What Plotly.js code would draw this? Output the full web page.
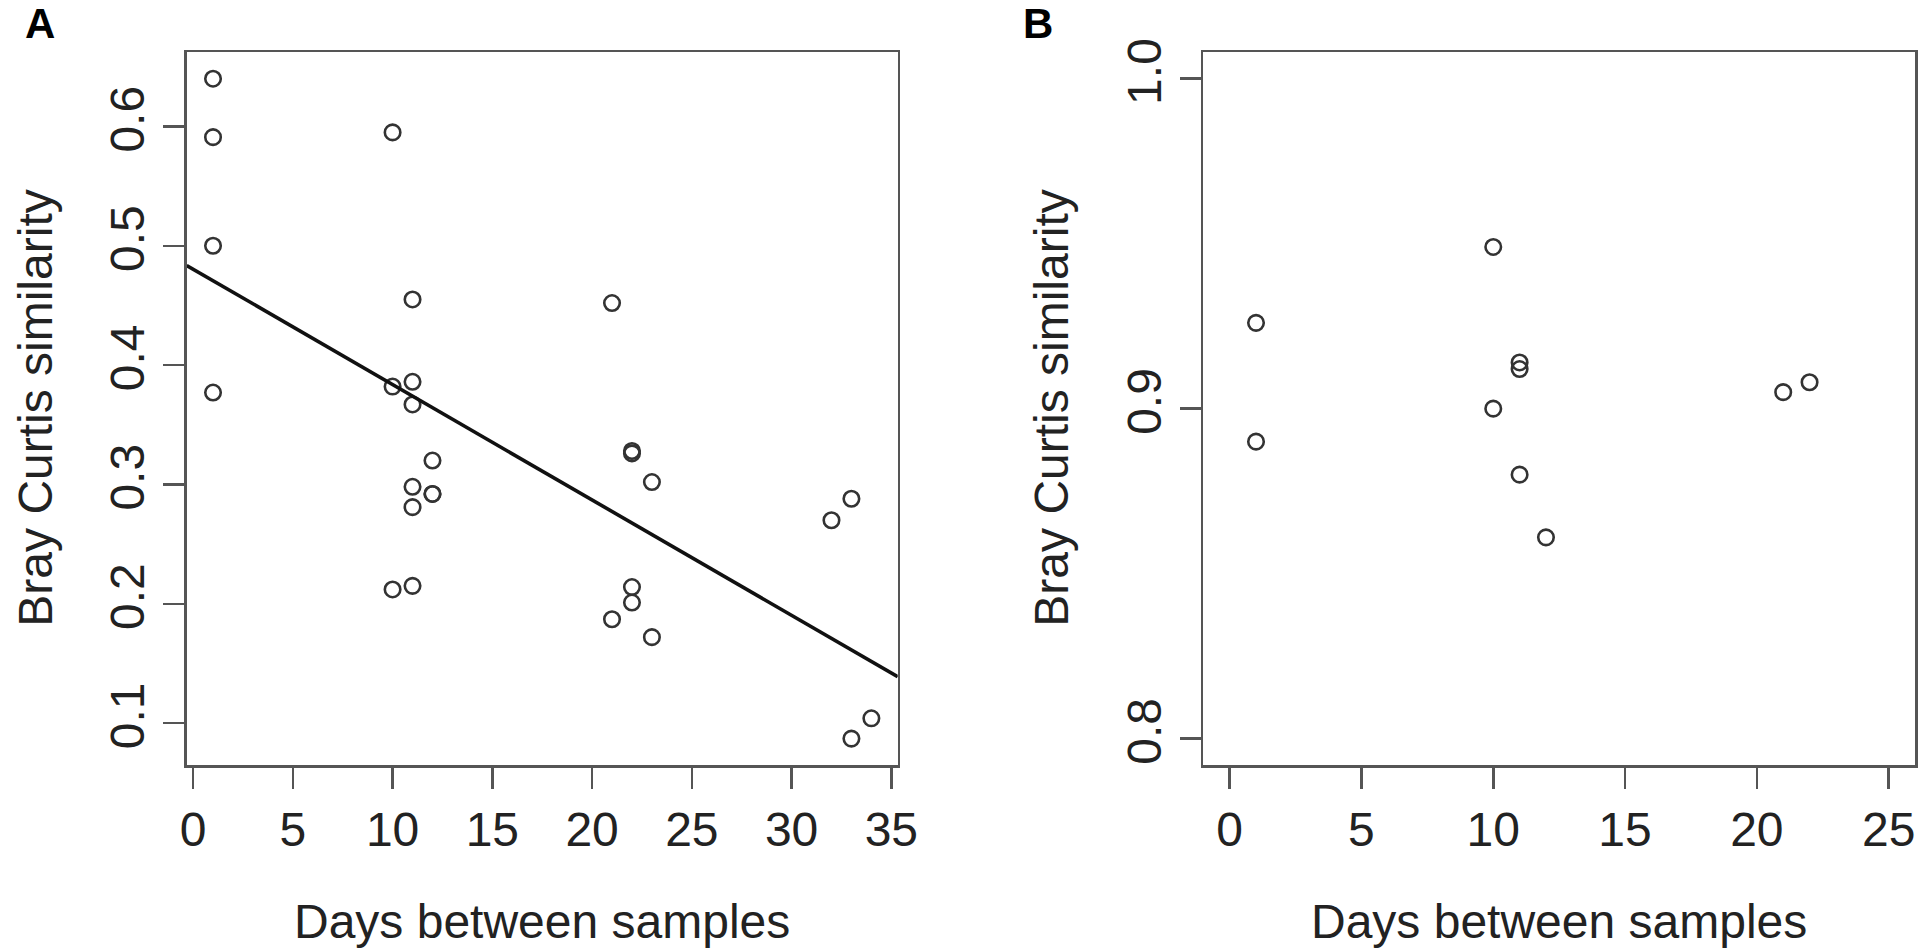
<!DOCTYPE html>
<html>
<head>
<meta charset="utf-8">
<script src="https://cdn.plot.ly/plotly-3.0.1.min.js"></script>
<style>
  html, body { margin: 0; padding: 0; background: #fff; }
  #chart { width: 1931px; height: 949px; }
</style>
</head>
<body>
<div id="chart"></div>
<script>
// ── Données ──────────────────────────────────────────
// Panneau A : toutes les paires d'échantillons
const daysA = [1, 1, 1, 1, 10, 10, 10, 11, 11, 11, 11, 11, 11, 12, 12, 12,
               21, 21, 22, 22, 22, 22, 23, 23, 32, 33, 33, 34];
const simA  = [0.640, 0.591, 0.500, 0.377, 0.595, 0.382, 0.212,
               0.455, 0.386, 0.367, 0.298, 0.281, 0.215,
               0.320, 0.292, 0.292, 0.452, 0.187,
               0.328, 0.326, 0.214, 0.201, 0.302, 0.172,
               0.270, 0.288, 0.087, 0.104];

// droite de régression du panneau A
const fitIntercept = 0.4804;
const fitSlope     = -0.00967;

// Panneau B
const daysB = [1, 1, 10, 10, 11, 11, 11, 12, 21, 22];
const simB  = [0.926, 0.890, 0.949, 0.900, 0.914, 0.912, 0.880, 0.861, 0.905, 0.908];
const xlimB = [0, 25];
const ylimB = [0.8, 1.0];

const xTicksA = [0, 5, 10, 15, 20, 25, 30, 35];
const yTicksA = [0.1, 0.2, 0.3, 0.4, 0.5, 0.6];
const xTicksB = [0, 5, 10, 15, 20, 25];
const yTicksB = [0.8, 0.9, 1.0];

const xTitle = 'Days between samples';
const yTitle = 'Bray Curtis similarity';

// ── Style ────────────────────────────────────────────
const W = 1931, H = 949;
const FONT = 'Liberation Sans, Arial, Helvetica, sans-serif';
const INK  = '#222';
const AXC  = '#555';

// étendue façon R (4 % de chaque côté)
function rRange(lo, hi) {
  const d = (hi - lo) * 0.04;
  return [lo - d, hi + d];
}

const xRangeA = rRange(Math.min(...daysA), Math.max(...daysA));
const yRangeA = rRange(Math.min(...simA), Math.max(...simA));
const xRangeB = rRange(xlimB[0], xlimB[1]);
const yRangeB = rRange(ylimB[0], ylimB[1]);

const px = v => v / W;
const py = v => 1 - v / H;

const AXIS = {
  showline: true, mirror: true, linecolor: AXC, linewidth: 2.5,
  ticks: 'outside', ticklen: 21, tickwidth: 2.5, tickcolor: AXC,
  showgrid: false, zeroline: false, fixedrange: true,
  tickmode: 'array',
  tickfont: { family: FONT, size: 48, color: INK },
};

const MARKER = {
  symbol: 'circle-open', size: 15.5, color: '#333',
  line: { width: 2.6, color: '#333' },
};

const yDomain = [py(765), py(52.3)];

const traces = [
  {
    x: daysA, y: simA, xaxis: 'x', yaxis: 'y',
    type: 'scatter', mode: 'markers', marker: MARKER,
    hoverinfo: 'x+y', showlegend: false,
  },
  {
    x: xRangeA, y: xRangeA.map(d => fitIntercept + fitSlope * d),
    xaxis: 'x', yaxis: 'y',
    type: 'scatter', mode: 'lines',
    line: { color: '#111', width: 3.6 },
    hoverinfo: 'skip', showlegend: false,
  },
  {
    x: daysB, y: simB, xaxis: 'x2', yaxis: 'y2',
    type: 'scatter', mode: 'markers', marker: MARKER,
    hoverinfo: 'x+y', showlegend: false,
  },
];

function title(text, opts) {
  return Object.assign({
    text, showarrow: false,
    font: { family: FONT, size: 48, color: INK },
  }, opts);
}

const layout = {
  width: W, height: H,
  margin: { t: 0, b: 0, l: 0, r: 0 },
  paper_bgcolor: '#fff', plot_bgcolor: '#fff',
  xaxis: {
    ...AXIS, domain: [px(186.7), px(897.7)], range: xRangeA,
    tickvals: xTicksA, anchor: 'y',
  },
  yaxis: {
    ...AXIS, domain: yDomain, range: yRangeA,
    tickvals: yTicksA, tickformat: '.1f', tickangle: -90, anchor: 'x',
  },
  xaxis2: {
    ...AXIS, domain: [px(1203.3), px(1915)], range: xRangeB,
    tickvals: xTicksB, anchor: 'y2',
  },
  yaxis2: {
    ...AXIS, domain: yDomain, range: yRangeB,
    tickvals: yTicksB, tickformat: '.1f', tickangle: -90, anchor: 'x2',
  },
  annotations: [
    title(xTitle, { xref: 'x domain', x: 0.5, yref: 'paper', y: py(921), xanchor: 'center', yanchor: 'middle' }),
    title(xTitle, { xref: 'x2 domain', x: 0.5, yref: 'paper', y: py(921), xanchor: 'center', yanchor: 'middle' }),
    title(yTitle, { xref: 'paper', x: px(36), yref: 'y domain', y: 0.5, xanchor: 'center', yanchor: 'middle', textangle: -90 }),
    title(yTitle, { xref: 'paper', x: px(1052), yref: 'y2 domain', y: 0.5, xanchor: 'center', yanchor: 'middle', textangle: -90 }),
    // lettres des panneaux
    { text: '<b>A</b>', xref: 'paper', yref: 'paper', x: px(40), y: py(23),
      xanchor: 'center', yanchor: 'middle', showarrow: false,
      font: { family: FONT, size: 42, color: '#000' } },
    { text: '<b>B</b>', xref: 'paper', yref: 'paper', x: px(1038), y: py(23),
      xanchor: 'center', yanchor: 'middle', showarrow: false,
      font: { family: FONT, size: 42, color: '#000' } },
  ],
};

Plotly.newPlot('chart', traces, layout, { displayModeBar: false, staticPlot: true });
</script>
</body>
</html>
